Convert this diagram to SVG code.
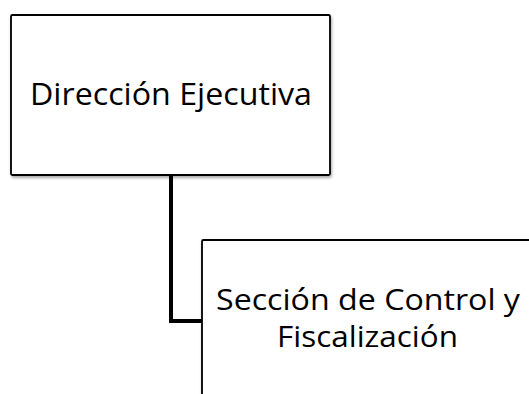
<svg xmlns="http://www.w3.org/2000/svg" width="529" height="394" viewBox="0 0 529 394">
<defs>
<filter id="sh" x="-10%" y="-10%" width="130%" height="130%">
<feGaussianBlur in="SourceAlpha" stdDeviation="1.5"/>
<feOffset dx="1" dy="2" result="b"/>
<feComponentTransfer><feFuncA type="linear" slope="0.35"/></feComponentTransfer>
<feMerge><feMergeNode/><feMergeNode in="SourceGraphic"/></feMerge>
</filter>
<style>
.box{fill:#fff;stroke:#000;stroke-width:1.8;filter:url(#sh)}
.lbl{font-family:"Open Sans","Noto Sans","Liberation Sans",sans-serif;font-size:31px;fill:#000;text-anchor:middle}
.lbl2{font-size:29px}
.conn{fill:none;stroke:#000;stroke-width:4;stroke-linejoin:miter}
</style>
</defs>
<rect width="529" height="394" fill="#fff"/>
<g id="connectors">
<path class="conn" d="M171,175 V321 H202"/>
</g>
<g id="node-direccion">
<rect class="box" x="11" y="15" width="319" height="160" rx="1.5"/>
<text class="lbl" x="171" y="105" textLength="282" lengthAdjust="spacingAndGlyphs">Dirección Ejecutiva</text>
</g>
<g id="node-seccion">
<rect class="box" x="202" y="240" width="340" height="170" rx="1.5"/>
<text class="lbl lbl2" x="368" y="310" textLength="304" lengthAdjust="spacingAndGlyphs">Sección de Control y</text>
<text class="lbl lbl2" x="367.5" y="347" textLength="181" lengthAdjust="spacingAndGlyphs">Fiscalización</text>
</g>
</svg>
